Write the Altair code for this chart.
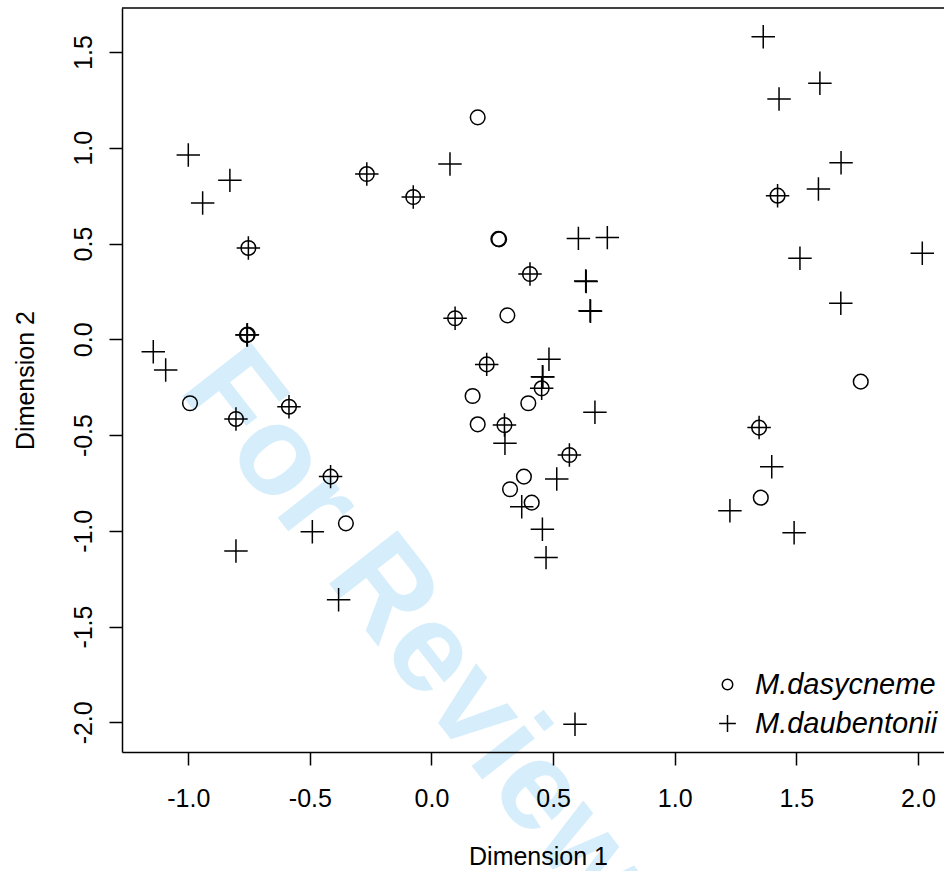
import altair as alt
import pandas as pd

# ---- data ----
species_names = ["M.dasycneme", "M.daubentonii"]

dasy_x = [-0.266, -0.075, -0.753, -0.759, -0.756, 0.097, 0.190, 1.423, 0.275, 0.278,
          0.405, 0.312, 0.227, 1.765, 0.453, 0.169, 0.398, 0.190, 0.300, 0.567,
          0.380, 0.323, 0.412, 1.347, 1.354, -0.993, -0.804, -0.586, -0.415, -0.352]
dasy_y = [0.863, 0.743, 0.477, 0.022, 0.025, 0.110, 1.159, 0.750, 0.524, 0.522,
          0.341, 0.125, -0.131, -0.221, -0.256, -0.296, -0.334, -0.444, -0.448, -0.604,
          -0.717, -0.783, -0.853, -0.461, -0.827, -0.334, -0.416, -0.352, -0.717, -0.961]

daub_x = [-0.266, -0.075, -0.753, -0.759, -0.757, 0.097, 1.423, 0.405, 0.227, 0.453,
          0.300, 0.567, 1.347, -0.804, -0.586, -0.415,
          -1.000, -0.829, -0.941, 0.076, -1.144, -1.093, 1.364, 1.597, 1.429, 1.684,
          1.591, 0.604, 0.723, 1.515, 2.018, 0.634, 0.636, 0.652, 0.654, 1.683,
          0.483, 0.456, 0.458, 0.672, 0.302, 0.515, 0.371, 0.456, 0.471, 1.399,
          1.227, 1.491, 0.590, -0.490, -0.804, -0.382]
daub_y = [0.863, 0.743, 0.477, 0.022, 0.024, 0.110, 0.750, 0.341, -0.131, -0.256,
          -0.448, -0.604, -0.461, -0.416, -0.352, -0.717,
          0.962, 0.830, 0.712, 0.915, -0.065, -0.160, 1.580, 1.337, 1.255, 0.922,
          0.785, 0.527, 0.531, 0.423, 0.449, 0.304, 0.302, 0.149, 0.147, 0.188,
          -0.104, -0.195, -0.197, -0.381, -0.543, -0.729, -0.874, -0.992, -1.140, -0.665,
          -0.895, -1.010, -2.010, -1.005, -1.105, -1.360]

x_ticks = [-1.0, -0.5, 0.0, 0.5, 1.0, 1.5, 2.0]
y_ticks = [-2.0, -1.5, -1.0, -0.5, 0.0, 0.5, 1.0, 1.5]
watermark_text = ["For Review Only"]

df = pd.DataFrame({
    "x": dasy_x + daub_x,
    "y": dasy_y + daub_y,
    "species": [species_names[0]] * len(dasy_x) + [species_names[1]] * len(daub_x),
})

W, H = 822, 744
FONT = "Liberation Sans"
PLUS = "M-1.6,0H1.6M0,-1.6V1.6"

x_scale = alt.Scale(domain=[-1.2726, 2.1073], nice=False, zero=False)
y_scale = alt.Scale(domain=[-2.155, 1.730], nice=False, zero=False)

x_axis = alt.Axis(
    values=x_ticks, format=".1f", labelExpr="replace(datum.label, '\u2212', '-')",
    title="Dimension 1", grid=False, zindex=1,
    tickSize=13, tickWidth=1.5, tickColor="black",
    domainWidth=1.5, domainColor="black",
    labelFont=FONT, labelFontSize=25, labelColor="black", labelPadding=21,
    labelFlush=False, labelOverlap=False,
    titleFont=FONT, titleFontSize=25, titleFontWeight="normal", titleColor="black",
    titleX=416, titleY=112, titleAlign="center", titleBaseline="alphabetic",
)
y_axis = alt.Axis(
    values=y_ticks, format=".1f", labelExpr="replace(datum.label, '\u2212', '-')",
    title="Dimension 2", grid=False, zindex=1,
    tickSize=13, tickWidth=1.5, tickColor="black",
    domainWidth=1.5, domainColor="black",
    labelFont=FONT, labelFontSize=25, labelColor="black", labelPadding=13,
    labelAngle=270, labelAlign="center", labelBaseline="bottom",
    labelFlush=False, labelOverlap=False,
    titleFont=FONT, titleFontSize=25, titleFontWeight="normal", titleColor="black",
    titleAngle=270, titleX=-89, titleY=372, titleAlign="center", titleBaseline="alphabetic",
)

points = alt.Chart(df).mark_point(
    filled=False, size=215, strokeWidth=1.5, opacity=1, color="black"
).encode(
    x=alt.X("x:Q", scale=x_scale, axis=x_axis),
    y=alt.Y("y:Q", scale=y_scale, axis=y_axis),
    shape=alt.Shape(
        "species:N",
        scale=alt.Scale(domain=species_names, range=["circle", PLUS]),
        legend=alt.Legend(
            title=None, orient="none", legendX=591, legendY=662, padding=0,
            symbolSize=110, symbolStrokeWidth=1.5, symbolStrokeColor="black",
            labelFont=FONT, labelFontSize=29, labelFontStyle="italic", labelColor="black",
            labelOffset=13, labelLimit=400, rowPadding=9,
        ),
    ),
)

watermark = alt.Chart(pd.DataFrame({"t": watermark_text})).mark_text(
    angle=52, font=FONT, fontWeight="bold", fontSize=126, color="#d6eefb",
    align="left", baseline="alphabetic",
).encode(x=alt.value(55.5), y=alt.value(381.4), text="t:N")

top_line = alt.Chart(pd.DataFrame({"a": [0]})).mark_rule(
    color="black", strokeWidth=1.5
).encode(x=alt.value(0), x2=alt.value(W), y=alt.value(0))

chart = alt.layer(watermark, top_line, points).properties(
    width=W, height=H,
    autosize=alt.AutoSizeParams(type="none"),
    padding={"left": 122, "top": 8, "right": 0, "bottom": 871 - 8 - H},
    background="white",
).configure_view(stroke=None)

chart.save("out.html", embed_options={"renderer": "svg", "actions": False})
